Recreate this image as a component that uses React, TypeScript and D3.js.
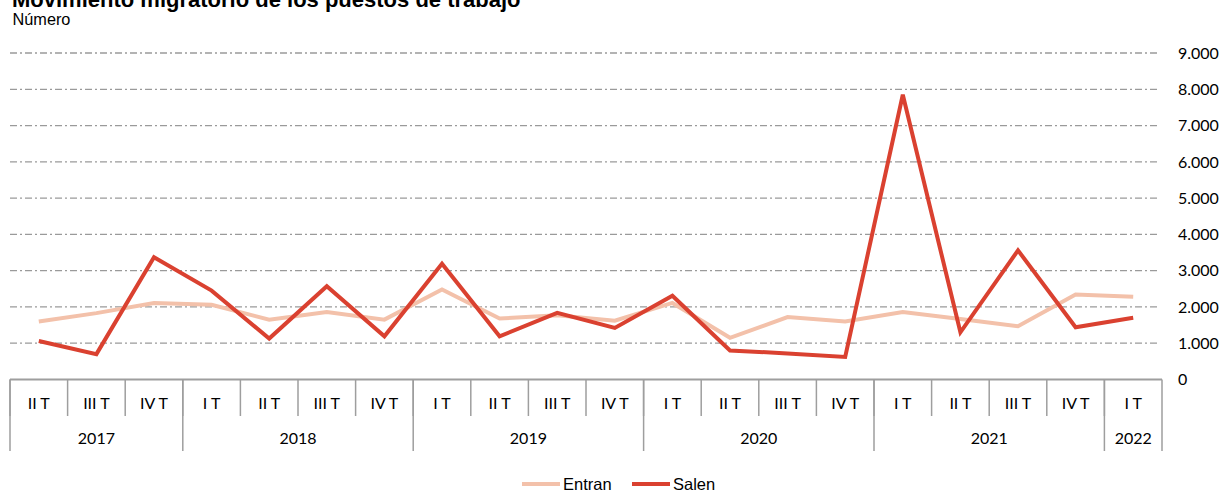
import React from "react";
import * as d3 from "d3";

const quarters = [
  "II T", "III T", "IV T",
  "I T", "II T", "III T", "IV T",
  "I T", "II T", "III T", "IV T",
  "I T", "II T", "III T", "IV T",
  "I T", "II T", "III T", "IV T",
  "I T",
];
const years = ["2017", "2018", "2019", "2020", "2021", "2022"];
const yearSpans = [3, 4, 4, 4, 4, 1];
const entran = [1600, 1830, 2110, 2060, 1650, 1860, 1650, 2480, 1680, 1770, 1620, 2110, 1150, 1720, 1600, 1860, 1670, 1470, 2340, 2280];
const salen = [1060, 700, 3370, 2450, 1130, 2570, 1190, 3190, 1190, 1835, 1420, 2310, 800, 720, 620, 7850, 1300, 3560, 1440, 1700];
const yTicks = [0, 1000, 2000, 3000, 4000, 5000, 6000, 7000, 8000, 9000];
const seriesNames = ["Entran", "Salen"];
const seriesColors = ["#F3C1AA", "#DA4130"];

const W = 1225;
const H = 493;
const left = 10;
const right = 1162;
const y0 = 379.5;
const yTop = 53;

export default function App() {
  const idx = quarters.map((_, i) => i);
  const x = d3.scaleBand<number>().domain(idx).range([left, right]).padding(0);
  const y = d3.scaleLinear().domain([0, 9000]).range([y0, yTop]);
  const cx = (i: number) => (x(i) as number) + x.bandwidth() / 2;
  const line = d3
    .line<number>()
    .x((_, i) => cx(i))
    .y((d) => y(d));

  const fmt = (v: number) =>
    v === 0 ? "0" : d3.format(",")(v).replace(/,/g, ".");

  let acc = 0;
  const yearBounds = yearSpans.map((s) => {
    const start = acc;
    acc += s;
    return [start, acc];
  });

  const axisColor = "#9E9E9E";
  const axisFont = "Lato, 'Open Sans', sans-serif";

  return (
    <svg
      width={W}
      height={H}
      style={{ position: "absolute", left: 0, top: 0, background: "#fff" }}
    >
      <text
        x={12}
        y={6.5}
        fontFamily="'Liberation Sans', Arial, sans-serif"
        fontWeight="bold"
        fontSize={22}
        fill="#000"
      >
        Movimiento migratorio de los puestos de trabajo
      </text>
      <text
        x={12.5}
        y={25}
        fontFamily="'Liberation Sans', Arial, sans-serif"
        fontSize={16.3}
        fill="#000"
      >
        Número
      </text>

      {yTicks
        .filter((t) => t > 0)
        .map((t) => (
          <line
            key={"g" + t}
            x1={left}
            x2={1160}
            y1={y(t)}
            y2={y(t)}
            stroke="#9A9A9A"
            strokeWidth={1.3}
            strokeDasharray="7 3 2 3"
          />
        ))}
      {yTicks.map((t) => (
        <text
          key={"t" + t}
          x={1178}
          y={y(t)}
          dy="0.36em"
          fontFamily={axisFont}
          fontSize={16}
          fill="#000"
        >
          {fmt(t)}
        </text>
      ))}

      {/* category axis */}
      <line x1={left} x2={right} y1={y0} y2={y0} stroke={axisColor} strokeWidth={2} />
      {idx.map((i) => (
        <line
          key={"qd" + i}
          x1={x(i) as number}
          x2={x(i) as number}
          y1={y0}
          y2={416}
          stroke={axisColor}
          strokeWidth={1.5}
        />
      ))}
      {yearBounds.map(([s], k) => (
        <line
          key={"yd" + k}
          x1={x(s) as number}
          x2={x(s) as number}
          y1={y0}
          y2={451}
          stroke={axisColor}
          strokeWidth={1.5}
        />
      ))}
      <line x1={right} x2={right} y1={y0} y2={451} stroke={axisColor} strokeWidth={1.5} />
      {quarters.map((q, i) => (
        <text
          key={"q" + i}
          x={cx(i)}
          y={409}
          textAnchor="middle"
          fontFamily={axisFont}
          fontSize={16}
          fill="#000"
        >
          {q}
        </text>
      ))}
      {years.map((yr, k) => {
        const [s, e] = yearBounds[k];
        const x1 = x(s) as number;
        const x2 = e < quarters.length ? (x(e) as number) : right;
        return (
          <text
            key={"y" + yr}
            x={(x1 + x2) / 2}
            y={444}
            textAnchor="middle"
            fontFamily={axisFont}
            fontSize={16}
            fill="#000"
          >
            {yr}
          </text>
        );
      })}

      <path d={line(entran) || ""} fill="none" stroke={seriesColors[0]} strokeWidth={4} strokeLinejoin="miter" />
      <path d={line(salen) || ""} fill="none" stroke={seriesColors[1]} strokeWidth={4} strokeLinejoin="miter" />

      {/* legend */}
      {seriesNames.map((n, k) => {
        const lx = k === 0 ? 522 : 632;
        return (
          <g key={n}>
            <line x1={lx} x2={lx + 38} y1={484} y2={484} stroke={seriesColors[k]} strokeWidth={4} />
            <text
              x={lx + 41}
              y={490}
              fontFamily="'Liberation Sans', Arial, sans-serif"
              fontSize={16.5}
              fill="#000"
            >
              {n}
            </text>
          </g>
        );
      })}
    </svg>
  );
}
